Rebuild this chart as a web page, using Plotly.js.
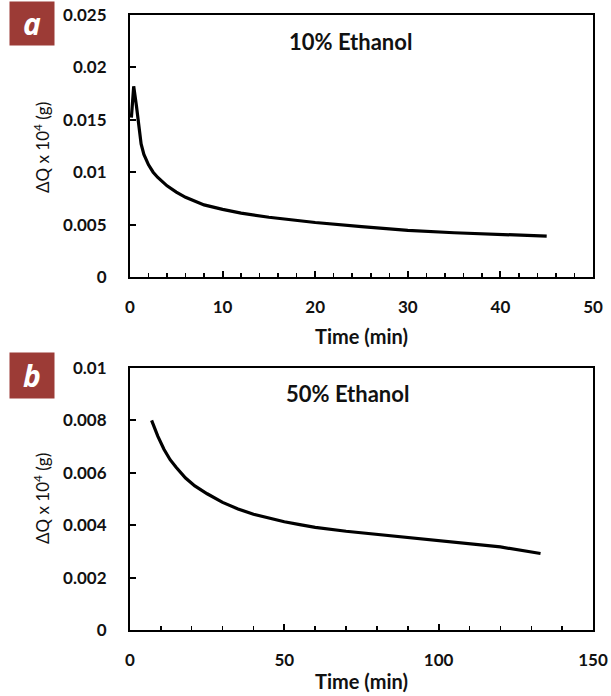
<!DOCTYPE html>
<html>
<head>
<meta charset="utf-8">
<script src="https://cdn.plot.ly/plotly-3.0.1.min.js"></script>
<style>html,body{margin:0;padding:0;background:#fff;}#chart{width:611px;height:696px;}</style>
</head>
<body>
<div id="chart"></div>
<script>
// Panel a: 10% Ethanol
const timeA = [0.15, 0.4, 0.7, 0.9, 1.2, 1.5, 2, 2.5, 3, 4, 5, 6, 7, 8, 10, 12, 15, 18, 20, 25, 30, 35, 40, 45];
const dqA   = [0.0152, 0.0182, 0.0163, 0.0149, 0.0127, 0.0117, 0.0107, 0.0100, 0.0095, 0.0087, 0.0081, 0.0076, 0.0072, 0.00688, 0.00645, 0.0061, 0.0057, 0.0054, 0.0052, 0.0048, 0.00445, 0.00422, 0.00404, 0.0039];
// Panel b: 50% Ethanol
const timeB = [7, 9, 11, 13, 15, 18, 21, 25, 30, 35, 40, 45, 50, 55, 60, 70, 80, 90, 100, 110, 120, 133];
const dqB   = [0.0080, 0.0074, 0.0069, 0.0065, 0.0062, 0.0058, 0.0055, 0.0052, 0.00487, 0.00462, 0.00442, 0.00426, 0.00413, 0.00402, 0.00392, 0.00377, 0.00365, 0.00354, 0.00344, 0.00332, 0.00317, 0.00292];

const panelTitles = ["10% Ethanol", "50% Ethanol"];
const panelLetters = ["a", "b"];
const xTitle = "Time (min)";
const yTitle = "ΔQ x 10<sup>4</sup> (g)";

const W = 611, H = 696, L = 130, R = 18;
const pw = W - L - R;
const px = v => (v - L) / pw;
const py = v => 1 - v / H;

const tickFont = {family: "Lato, 'Open Sans', sans-serif", size: 17, color: "#111", weight: 700};

function xaxisCfg(range, dtick, minorDtick, anchor) {
  return {
    range: range, dtick: dtick, tick0: 0, anchor: anchor,
    showline: true, mirror: true, linecolor: "#000", linewidth: 2,
    ticks: "inside", ticklen: 6, tickwidth: 2, tickcolor: "#000",
    minor: {ticks: "inside", ticklen: 4, tickwidth: 1.5, tickcolor: "#000", dtick: minorDtick, tick0: 0},
    showgrid: false, zeroline: false, tickfont: tickFont, ticklabelstandoff: 14,
    fixedrange: true
  };
}
function yaxisCfg(range, dtick, domain, anchor) {
  return {
    range: range, dtick: dtick, tick0: 0, domain: domain, anchor: anchor,
    showline: true, mirror: true, linecolor: "#000", linewidth: 2,
    ticks: "inside", ticklen: 6, tickwidth: 2, tickcolor: "#000",
    showgrid: false, zeroline: false, tickfont: tickFont, ticklabelstandoff: 18,
    fixedrange: true
  };
}

const traces = [
  {x: timeA, y: dqA, xaxis: "x", yaxis: "y", mode: "lines", line: {color: "#000", width: 3.2}, hoverinfo: "skip"},
  {x: timeB, y: dqB, xaxis: "x2", yaxis: "y2", mode: "lines", line: {color: "#000", width: 3.2}, hoverinfo: "skip"}
];

const titleFont = {family: "Lato, 'Open Sans', sans-serif", size: 22, color: "#111", weight: 700};
const xTitleFont = {family: "Lato, 'Open Sans', sans-serif", size: 20, color: "#111", weight: 700};
const yTitleFont = {family: "Lato, 'Open Sans', sans-serif", size: 17, color: "#111"};

function ann(text, x, y, font, extra) {
  return Object.assign({text: text, x: px(x), y: py(y), xref: "paper", yref: "paper",
    xanchor: "center", yanchor: "middle", showarrow: false, font: font}, extra || {});
}
const letterFont = {family: "'Open Sans', Lato, sans-serif", size: 30, color: "#fff"};

const layout = {
  width: W, height: H,
  margin: {l: L, r: R, t: 0, b: 0},
  paper_bgcolor: "#fff", plot_bgcolor: "#fff",
  showlegend: false,
  xaxis: xaxisCfg([0, 50], 10, 2, "y"),
  yaxis: yaxisCfg([0, 0.025], 0.005, [py(277), py(15)], "x"),
  xaxis2: xaxisCfg([0, 150], 50, 10, "y2"),
  yaxis2: yaxisCfg([0, 0.01], 0.002, [py(630), py(368)], "x2"),
  annotations: [
    ann(panelTitles[0], 350, 42, titleFont),
    ann(panelTitles[1], 347, 393, titleFont),
    ann(xTitle, 361, 336, xTitleFont),
    ann(xTitle, 361, 681, xTitleFont),
    ann(yTitle, 41, 148, yTitleFont, {textangle: -90}),
    ann(yTitle, 41, 499, yTitleFont, {textangle: -90}),
    ann("<b><i>" + panelLetters[0] + "</i></b>", 32, 23.5, letterFont, {width: 40, height: 39, bgcolor: "#9c3b36", borderpad: 2}),
    ann("<b><i>" + panelLetters[1] + "</i></b>", 32, 375.5, letterFont, {width: 40, height: 41, bgcolor: "#9c3b36", borderpad: 2})
  ]
};

Plotly.newPlot("chart", traces, layout, {displayModeBar: false, staticPlot: true});
</script>
</body>
</html>
